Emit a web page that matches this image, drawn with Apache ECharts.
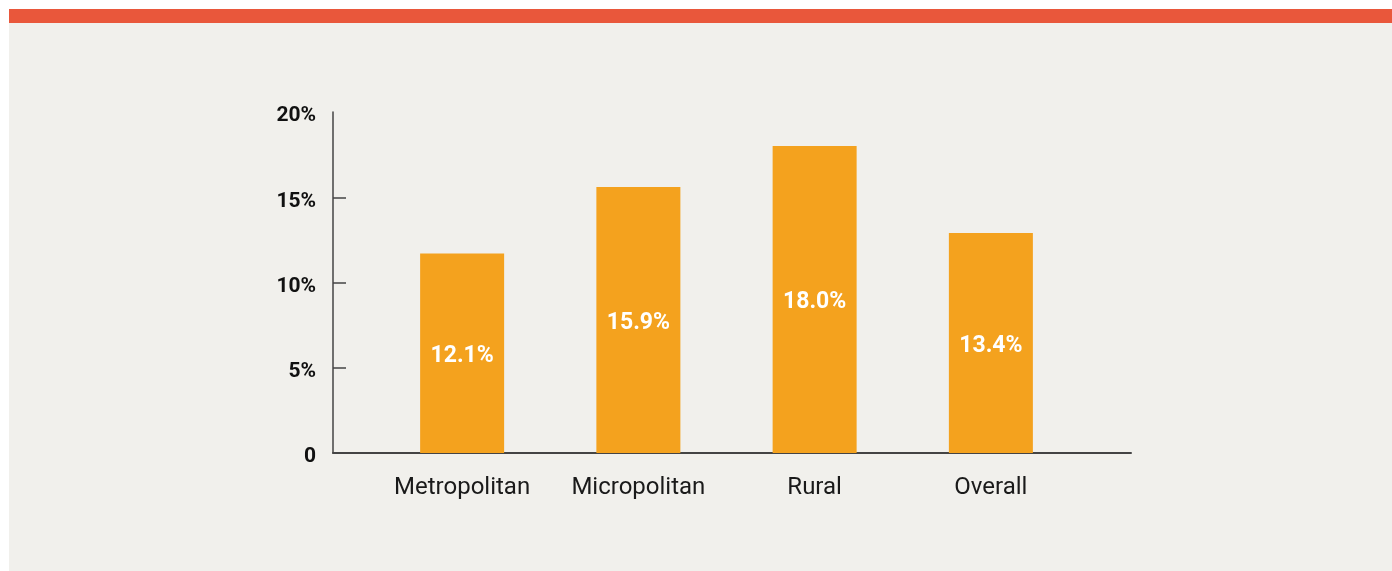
<!DOCTYPE html>
<html>
<head>
<meta charset="utf-8">
<script src="https://cdn.jsdelivr.net/npm/echarts@6/dist/echarts.min.js"></script>
<style>
  html, body { margin: 0; padding: 0; background: #ffffff; width: 1392px; height: 571px; overflow: hidden; }
  #panel { position: absolute; left: 9px; top: 9px; right: 0; bottom: 0; background: #f1f0ec; }
  #strip { position: absolute; left: 9px; top: 9px; right: 0; height: 14px; background: #e9573b; }
  #chart { position: absolute; left: 0; top: 0; width: 1392px; height: 571px; }
</style>
</head>
<body>
<div id="panel"></div>
<div id="strip"></div>
<div id="chart"></div>
<script>
// ---- data ----
var categories = ['Metropolitan', 'Micropolitan', 'Rural', 'Overall'];
var barValues = [11.7, 15.6, 18.0, 12.9];           // bar heights as drawn
var barLabels = ['12.1%', '15.9%', '18.0%', '13.4%']; // printed values
var yTickValues = [0, 5, 10, 15, 20];
var yTickLabels = ['0', '5%', '10%', '15%', '20%'];

var chart = echarts.init(document.getElementById('chart'), null, { renderer: 'canvas' });

var FONT = 'Roboto, "Noto Sans", sans-serif';
var TOP = 112, BOTTOM = 118;

var option = {
  backgroundColor: 'transparent',
  animation: false,
  grid: [
    { left: 333, right: 261, top: TOP, bottom: BOTTOM },  // axis frame
    { left: 374, right: 313, top: TOP, bottom: BOTTOM }   // bars
  ],
  xAxis: [
    {
      gridIndex: 0, type: 'value', min: 0, max: 1,
      axisLine: { show: true, lineStyle: { color: '#444444', width: 2 } },
      axisTick: { show: false }, axisLabel: { show: false }, splitLine: { show: false }
    },
    {
      gridIndex: 1, type: 'category', data: categories,
      axisLine: { show: false }, axisTick: { show: false },
      axisLabel: { interval: 0, color: '#1a1a1a', fontFamily: FONT, fontSize: 24, margin: 23 }
    }
  ],
  yAxis: [
    {
      gridIndex: 0, type: 'value', min: 0, max: 20, interval: 5,
      axisLine: { show: true, lineStyle: { color: '#444444', width: 1.5 } },
      axisTick: { show: true, inside: true, length: 13, customValues: [5, 10, 15],
                  lineStyle: { color: '#444444', width: 1.5 } },
      splitLine: { show: false },
      axisLabel: {
        color: '#111111', fontFamily: FONT, fontSize: 21, fontWeight: 'bold', margin: 17,
        verticalAlign: 'top', lineHeight: 8,
        formatter: function (v) {
          var i = yTickValues.indexOf(v);
          return i >= 0 ? yTickLabels[i] : '';
        }
      }
    },
    {
      gridIndex: 1, type: 'value', min: 0, max: 20, interval: 5, show: false
    }
  ],
  series: [
    {
      type: 'bar',
      xAxisIndex: 1, yAxisIndex: 1,
      data: barValues,
      barWidth: 84,
      itemStyle: { color: '#f4a21e' },
      label: {
        show: true, position: 'inside', color: '#ffffff', offset: [0, 3],
        fontFamily: FONT, fontSize: 23, fontWeight: 'bold',
        formatter: function (p) { return barLabels[p.dataIndex]; }
      }
    }
  ]
};

chart.setOption(option);
</script>
</body>
</html>
